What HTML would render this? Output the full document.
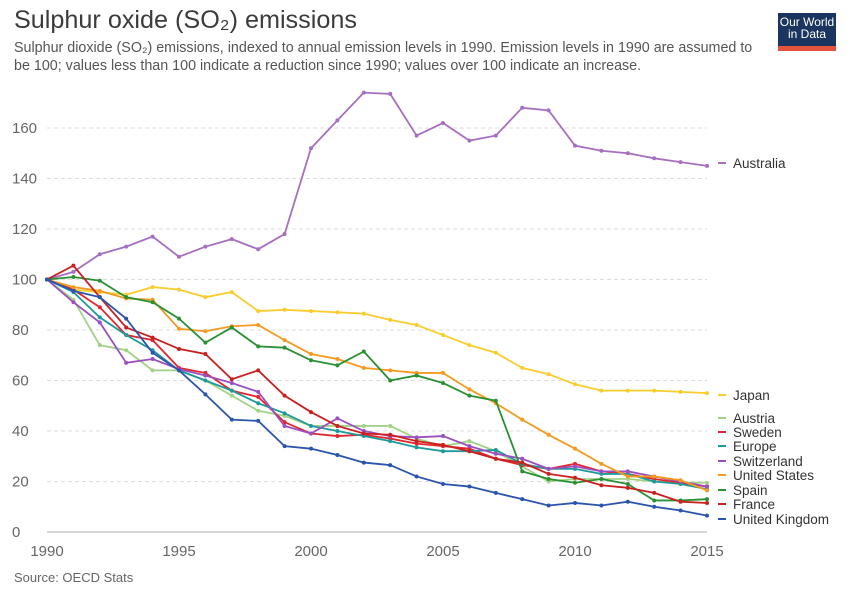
<!DOCTYPE html>
<html><head><meta charset="utf-8"><style>
body{margin:0;background:#fff;font-family:"Liberation Sans",sans-serif;}
#wrap{position:relative;width:850px;height:600px;overflow:hidden;}
.t{position:absolute;}
</style></head><body>
<div id="wrap">
<div class="t" style="left:14px;top:6px;font-size:25.2px;color:#3b3b3b;">Sulphur oxide (SO₂) emissions</div>
<div class="t" style="left:14px;top:39px;white-space:nowrap;font-size:14.3px;line-height:18px;color:#555;">Sulphur dioxide (SO₂) emissions, indexed to annual emission levels in 1990. Emission levels in 1990 are assumed to<br>be 100; values less than 100 indicate a reduction since 1990; values over 100 indicate an increase.</div>
<div class="t" style="left:778px;top:13px;width:58px;height:38px;z-index:2;background:#1a3560;color:#fff;font-size:12px;line-height:12px;text-align:center;padding-top:3px;box-sizing:border-box;border-bottom:5px solid #e5533c;">Our World<br>in Data</div>
<div class="t" style="left:14px;top:570px;font-size:13px;color:#666;">Source: OECD Stats</div>
<svg id="chart" class="t" style="left:0;top:0" width="850" height="600"></svg>
</div>
<script>
const years=[1990,1991,1992,1993,1994,1995,1996,1997,1998,1999,2000,2001,2002,2003,2004,2005,2006,2007,2008,2009,2010,2011,2012,2013,2014,2015];
const yTicks=[0,20,40,60,80,100,120,140,160];
const xTicks=[1990,1995,2000,2005,2010,2015];
const australia=[100,103,110,113,117,109,113,116,112,118,152,163,174,173.5,157,162,155,157,168,167,153,151,150,148,146.5,145];
const japan=[100,96,95,94,97,96,93,95,87.5,88,87.5,87,86.5,84,82,78,74,71,65,62.5,58.5,56,56,56,55.5,55];
const austria=[100,92,74,72,64,64,60,54,48,46,42,42,42,42,37,34,36,32,26,20,21,21,21,20,19.5,19.5];
const sweden=[100,96,89,78,76,65,63,56,53.5,43.5,39,38,38.5,37,35,34,33,29,26.5,25,27,24,23,21,19.5,18];
const europe=[100,95,85,78,72,64,60,56,51,47,42,40,38,36,33.5,32,32,32.5,27,25,25,23,23,20,19,17];
const switzerland=[100,91,83,67,68.5,64.5,62,59,55.5,42,39,45,40,38,37.5,38,34,31,29,25,26,24,24,22,20,18];
const unitedStates=[100,97,95.5,92.5,92,80.5,79.5,81.5,82,76,70.5,68.5,65,64,63,63,56.5,51,44.5,38.5,33,27,22,22,20.5,16.5];
const spain=[100,101,99.5,93,91,84.5,75,81,73.5,73,68,66,71.5,60,62,59,54,52,24,21,19.5,21,19,12.5,12.5,13];
const france=[100,105.5,93,81,77,72.5,70.5,60.5,64,54,47.5,42,39,38.5,36,34.5,32,29,27.5,23,21.5,18.5,17.5,15.5,12,11.5];
const uk=[100,95.5,93,84.5,71,64,54.5,44.5,44,34,33,30.5,27.5,26.5,22,19,18,15.5,13,10.5,11.5,10.5,12,10,8.5,6.5];
const seriesNames=["Australia","Japan","Austria","Sweden","Europe","Switzerland","United States","Spain","France","United Kingdom"];
const seriesData=[australia,japan,austria,sweden,europe,switzerland,unitedStates,spain,france,uk];
const colors=["#a66fbf","#f9cd2f","#a2d286","#e3262f","#1f9a9a","#9b4fc0","#f49a1f","#2a9034","#c9201f","#2b55ad"];
const labelY=[163,395,418,432,446,461,475,490,504,519];
const NS="http://www.w3.org/2000/svg";
const svg=document.getElementById('chart');
const x=v=>47+(v-1990)*26.4;
const y=v=>532-v*2.525;
function mk(t,a){const e=document.createElementNS(NS,t);for(const k in a)e.setAttribute(k,a[k]);svg.appendChild(e);return e;}
yTicks.forEach(v=>{
  if(v>0){const g=mk('line',{x1:47,x2:707,y1:y(v),y2:y(v),stroke:'#ddd','stroke-dasharray':'4,3'});
  
  }
  const t=mk('text',{x:12,y:y(v)+5,'font-size':15,fill:'#666','font-family':'Liberation Sans'});
  t.textContent=v;
  
  
});
const ax=mk('line',{x1:47,x2:707,y1:y(0),y2:y(0),stroke:'#ccc','stroke-width':1.5});


xTicks.forEach(v=>{
  const t=mk('text',{x:x(v),y:556,'font-size':15,fill:'#666','text-anchor':'middle','font-family':'Liberation Sans'});
  t.textContent=v;
  
  
});
seriesData.forEach((d,i)=>{
  const p=mk('polyline',{points:d.map((v,j)=>x(years[j])+','+y(v)).join(' '),fill:'none',stroke:colors[i],'stroke-width':1.8});
  
  
  d.forEach((v,j)=>{
    const c=mk('circle',{cx:x(years[j]),cy:y(v),r:2,fill:colors[i]});
    
    
  });
  const ll=mk('line',{x1:718,x2:726,y1:labelY[i],y2:labelY[i],stroke:colors[i],'stroke-width':2});
  
  
  const t=mk('text',{x:733,y:labelY[i]+5,'font-size':13.5,fill:'#333','font-family':'Liberation Sans'});
  t.textContent=seriesNames[i];
  
  
});
</script>
</body></html>
